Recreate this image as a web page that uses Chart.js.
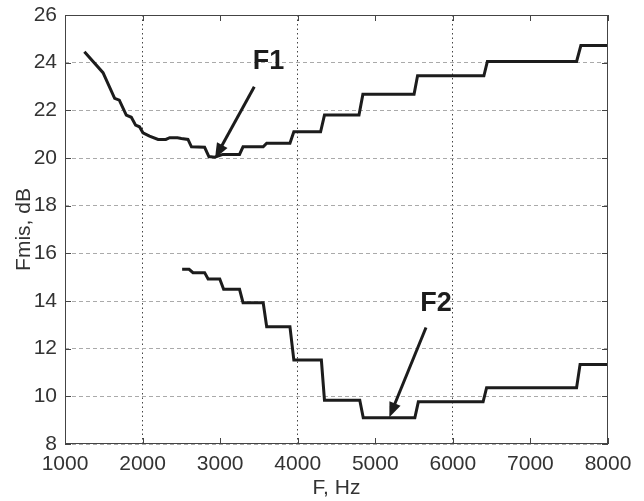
<!DOCTYPE html>
<html>
<head>
<meta charset="utf-8">
<script src="https://cdn.jsdelivr.net/npm/chart.js@4.4.0/dist/chart.umd.min.js"></script>
<style>
  html,body{margin:0;padding:0;background:#fff;}
  #wrap{width:644px;height:501px;position:relative;}
</style>
</head>
<body>
<div id="wrap"><canvas id="chart"></canvas></div>
<script>
// traced curves (Hz, dB)
const f1Freq = [1250,1490,1640,1700,1790,1855,1910,1960,2005,2090,2200,2300,2350,2450,2500,2585,2630,2800,2855,2930,3035,3250,3295,3555,3600,3900,3950,4295,4345,4790,4840,5500,5545,6400,6445,7595,7650,8000];
const f1Level = [24.46,23.58,22.5,22.43,21.8,21.71,21.38,21.31,21.06,20.92,20.78,20.78,20.85,20.85,20.82,20.78,20.47,20.45,20.06,20.03,20.15,20.15,20.47,20.47,20.62,20.62,21.1,21.1,21.8,21.8,22.67,22.67,23.45,23.45,24.05,24.05,24.72,24.72];

const f2Freq = [2510,2600,2650,2800,2845,2995,3045,3250,3295,3555,3600,3900,3950,4305,4345,4800,4845,5510,5555,6390,6435,7595,7640,8000];
const f2Level = [15.33,15.33,15.19,15.19,14.92,14.92,14.49,14.49,13.93,13.93,12.92,12.92,11.52,11.52,9.84,9.84,9.1,9.1,9.77,9.77,10.36,10.36,11.34,11.34];

// annotation labels: [text, x, y] and arrows: [fromX, fromY, toX, toY]
const labels = [['F1',3623,24.04],['F2',5783,13.91]];
const arrows = [[3440,22.99,2934,19.99],[5654,12.89,5181,9.12]];

const xMin = 1000, xMax = 8000, xStep = 1000;
const yMin = 8, yMax = 26, yStep = 2;
const xGridAt = [2000,4000,6000];

function pts(xs,ys){ return xs.map((x,i)=>({x:x,y:ys[i]})); }

Chart.defaults.font.family = "'Liberation Sans', Arial, sans-serif";

const decor = {
  id:'decor',
  afterDatasetsDraw(chart){
    const {ctx, chartArea:a, scales:{x,y}} = chart;
    ctx.save();
    // frame
    ctx.strokeStyle = '#444';
    ctx.lineWidth = 1;
    ctx.strokeRect(a.left+0.5, a.top+0.5, a.right-a.left-1, a.bottom-a.top-1);
    // inward ticks
    ctx.beginPath();
    for(let v=xMin; v<=xMax; v+=xStep){
      const px = Math.round(x.getPixelForValue(v))+0.5;
      ctx.moveTo(px,a.bottom); ctx.lineTo(px,a.bottom-6);
      ctx.moveTo(px,a.top); ctx.lineTo(px,a.top+6);
    }
    for(let v=yMin; v<=yMax; v+=yStep){
      const py = Math.round(y.getPixelForValue(v))+0.5;
      ctx.moveTo(a.left,py); ctx.lineTo(a.left+6,py);
      ctx.moveTo(a.right,py); ctx.lineTo(a.right-6,py);
    }
    ctx.stroke();
    // arrows
    ctx.strokeStyle = '#1c1c1c';
    ctx.fillStyle = '#1c1c1c';
    ctx.lineWidth = 3;
    arrows.forEach(r=>{
      const x0=x.getPixelForValue(r[0]), y0=y.getPixelForValue(r[1]);
      const x1=x.getPixelForValue(r[2]), y1=y.getPixelForValue(r[3]);
      const ang = Math.atan2(y1-y0,x1-x0);
      const hl=15, hw=6;
      const bx = x1-Math.cos(ang)*hl, by = y1-Math.sin(ang)*hl;
      ctx.beginPath(); ctx.moveTo(x0,y0); ctx.lineTo(bx+Math.cos(ang)*2,by+Math.sin(ang)*2); ctx.stroke();
      ctx.beginPath();
      ctx.moveTo(x1,y1);
      ctx.lineTo(bx+Math.sin(ang)*hw, by-Math.cos(ang)*hw);
      ctx.lineTo(bx-Math.sin(ang)*hw, by+Math.cos(ang)*hw);
      ctx.closePath(); ctx.fill();
    });
    // labels
    ctx.font = "bold 27px 'Liberation Sans', Arial, sans-serif";
    ctx.textAlign='center'; ctx.textBaseline='middle';
    labels.forEach(l=>{
      ctx.fillText(l[0], x.getPixelForValue(l[1]), y.getPixelForValue(l[2]));
    });
    ctx.restore();
  }
};

new Chart(document.getElementById('chart'), {
  type:'scatter',
  data:{
    datasets:[
      {label:'F1', data:pts(f1Freq,f1Level)},
      {label:'F2', data:pts(f2Freq,f2Level)}
    ]
  },
  options:{
    responsive:true,
    maintainAspectRatio:false,
    animation:false,
    layout:{padding:{top:15,right:36,left:0,bottom:0}},
    elements:{
      line:{borderColor:'#1c1c1c',borderWidth:3,tension:0,borderJoinStyle:'miter'},
      point:{radius:0}
    },
    datasets:{scatter:{showLine:true,borderColor:'#1c1c1c',borderWidth:3,pointRadius:0}},
    plugins:{legend:{display:false},tooltip:{enabled:false}},
    scales:{
      x:{
        type:'linear', min:xMin, max:xMax,
        afterFit(s){ s.height = 57; s.paddingLeft = 0; s.paddingRight = 0; },
        ticks:{stepSize:xStep, color:'#333', font:{size:21}, padding:8, maxRotation:0, autoSkip:false,
               callback:v=>String(v)},
        grid:{
          drawTicks:false,
          color:c=>xGridAt.includes(c.tick && c.tick.value) ? '#444' : 'rgba(0,0,0,0)',
          lineWidth:1
        },
        border:{display:false, dash:[1.5,3]},
        title:{display:true, text:'F, Hz', color:'#333', font:{size:21}, padding:{top:0,bottom:0}}
      },
      y:{
        type:'linear', min:yMin, max:yMax,
        afterFit(s){ s.width = 65; s.paddingTop = 0; s.paddingBottom = 0; },
        ticks:{stepSize:yStep, color:'#333', font:{size:21}, padding:8},
        grid:{drawTicks:false, color:'#aaa', lineWidth:1},
        border:{display:false, dash:[4,3]},
        title:{display:true, text:'Fmis, dB', color:'#333', font:{size:21}, padding:{top:12,bottom:0}}
      }
    }
  },
  plugins:[decor]
});
</script>
</body>
</html>
